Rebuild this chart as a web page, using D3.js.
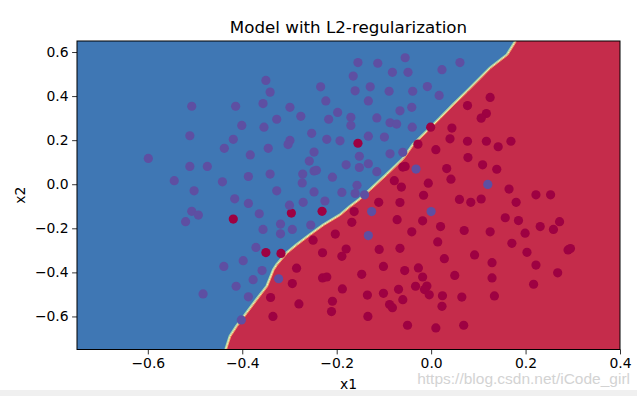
<!DOCTYPE html>
<html><head><meta charset="utf-8">
<script src="https://cdn.jsdelivr.net/npm/d3@7/dist/d3.min.js"></script>
<style>html,body{margin:0;padding:0;background:#fff;}svg{display:block;}</style>
</head><body>
<script>
// ---- data ----
const title = "Model with L2-regularization";
const xTicks = [-0.6, -0.4, -0.2, 0.0, 0.2, 0.4];
const yTicks = [-0.6, -0.4, -0.2, 0.0, 0.2, 0.4, 0.6];
const xDomain = [-0.75, 0.4];
const yDomain = [-0.75, 0.65];

// decision boundary (class 1 region lies to the upper-left)
const boundaryX = [-0.435,-0.426,-0.412,-0.391,-0.370,-0.348,-0.334,-0.327,-0.306,-0.285,-0.257,-0.228,-0.193,-0.172,-0.151,-0.129,-0.094,-0.059,-0.038,-0.009,0.019,0.047,0.076,0.104,0.125,0.161,0.179];
const boundaryY = [-0.75,-0.690,-0.644,-0.584,-0.524,-0.463,-0.388,-0.365,-0.312,-0.275,-0.229,-0.184,-0.139,-0.101,-0.067,-0.024,0.045,0.117,0.181,0.241,0.301,0.362,0.422,0.482,0.528,0.588,0.65];

// class 1 points (purple)
const class1X = [-0.350,-0.341,-0.507,-0.414,-0.356,-0.401,-0.354,-0.511,-0.419,-0.438,-0.345,-0.383,-0.599,-0.511,-0.474,-0.544,-0.387,-0.341,-0.442,-0.502,-0.416,-0.387,-0.507,-0.493,-0.520,-0.364,-0.356,-0.371,-0.398,-0.439,-0.358,-0.377,-0.413,-0.483,-0.387,-0.402,-0.327,-0.327,-0.319,-0.319,-0.294,-0.255,-0.300,-0.271,-0.248,-0.225,-0.189,-0.161,-0.141,-0.323,-0.155,-0.113,-0.165,-0.082,-0.055,-0.049,-0.234,-0.161,-0.129,-0.089,-0.223,-0.133,-0.299,-0.066,-0.198,-0.276,-0.217,-0.170,-0.170,-0.115,-0.087,-0.073,-0.253,-0.299,-0.303,-0.221,-0.193,-0.133,-0.099,-0.248,-0.152,-0.087,-0.060,-0.258,-0.180,-0.133,-0.152,-0.115,-0.248,-0.243,-0.272,-0.209,-0.273,-0.157,0.023,0.061,-0.008,-0.039,0.017,-0.041,-0.040,-0.032,0.120,-0.126,0.000,-0.133];
const class1Y = [0.471,0.418,0.354,0.354,0.366,0.267,0.259,0.220,0.204,0.163,0.163,0.133,0.117,0.081,0.081,0.016,0.035,0.046,0.011,-0.030,-0.066,-0.087,-0.123,-0.140,-0.170,-0.134,-0.205,-0.287,-0.347,-0.373,-0.392,-0.433,-0.463,-0.498,-0.511,-0.616,0.295,-0.030,-0.181,-0.225,-0.205,-0.185,-0.095,-0.082,-0.035,-0.076,-0.037,-0.042,-0.048,-0.429,0.552,0.549,0.491,0.508,0.574,0.508,0.442,0.424,0.442,0.422,0.378,0.378,0.349,0.333,0.326,0.308,0.295,0.304,0.267,0.301,0.279,0.273,0.231,0.199,0.180,0.204,0.197,0.218,0.214,0.146,0.127,0.138,0.145,0.105,0.088,0.093,0.076,0.057,0.060,0.063,0.046,0.032,0.006,-0.005,0.520,0.552,0.443,0.422,0.403,0.349,0.259,0.069,-0.001,-0.124,-0.124,-0.233];

// class 0 points (dark red)
const class0X = [-0.155,-0.419,-0.296,-0.231,-0.350,-0.318,-0.340,-0.335,-0.285,-0.294,-0.280,-0.250,-0.230,-0.230,-0.221,-0.203,-0.180,-0.189,-0.188,-0.209,-0.211,-0.163,-0.168,-0.147,-0.111,-0.066,-0.072,-0.110,-0.066,-0.101,-0.056,-0.135,-0.101,-0.069,-0.060,-0.088,-0.082,-0.134,-0.050,-0.078,-0.060,-0.063,0.125,0.077,0.117,0.106,-0.001,0.044,-0.028,0.010,0.040,0.077,0.117,0.142,0.169,0.078,0.109,0.139,0.033,0.042,-0.055,-0.006,-0.016,0.060,0.084,0.106,0.165,0.180,0.222,0.253,-0.018,0.020,0.070,0.125,0.157,0.185,0.199,0.231,0.259,0.272,-0.041,0.014,0.171,0.203,0.290,0.295,0.028,0.092,0.129,0.222,0.268,-0.027,-0.018,0.050,0.129,0.217,-0.033,-0.009,-0.014,-0.004,0.024,0.065,0.134,0.023,0.010,0.069];
const class0Y = [0.186,-0.158,-0.131,-0.123,-0.310,-0.314,-0.514,-0.600,-0.381,-0.451,-0.543,-0.254,-0.311,-0.425,-0.421,-0.226,-0.294,-0.327,-0.475,-0.531,-0.578,-0.124,-0.173,-0.409,-0.082,-0.083,-0.161,-0.296,-0.291,-0.373,-0.392,-0.503,-0.495,-0.477,-0.524,-0.546,-0.560,-0.600,-0.640,0.016,0.078,-0.013,0.394,0.357,0.321,0.300,0.259,0.255,0.182,0.157,0.206,0.195,0.195,0.170,0.195,0.121,0.088,0.068,0.071,0.023,0.081,0.005,-0.050,-0.069,-0.082,-0.067,-0.022,-0.082,-0.048,-0.048,-0.166,-0.192,-0.210,-0.216,-0.152,-0.165,-0.222,-0.192,-0.205,-0.170,-0.216,-0.262,-0.268,-0.309,-0.298,-0.292,-0.338,-0.321,-0.356,-0.367,-0.402,-0.380,-0.421,-0.414,-0.425,-0.454,-0.463,-0.462,-0.478,-0.502,-0.506,-0.512,-0.507,-0.554,-0.652,-0.640];

// ---- drawing ----
const W = 637, H = 396;
const svg = d3.select("body").append("svg").attr("width", W).attr("height", H);
const L = 77, R = 620, T = 41, B = 349.5;
const x = d3.scaleLinear().domain(xDomain).range([L, R]);
const y = d3.scaleLinear().domain(yDomain).range([B, T]);
const fmt = d => d3.format(".1f")(d).replace("-", "\u2212").replace("\u2212" + "0.0", "0.0");

svg.append("defs").append("clipPath").attr("id", "clip")
  .append("rect").attr("x", L).attr("y", T).attr("width", R - L).attr("height", B - T);

const plot = svg.append("g").attr("clip-path", "url(#clip)");
const redC = "#c52c4b", blueC = "#3f77b4";
plot.append("rect").attr("x", L).attr("y", T).attr("width", R - L).attr("height", B - T).attr("fill", redC);

const bpts = boundaryX.map((v, i) => [v, boundaryY[i]]);
const bluePoly = [[xDomain[0], yDomain[0]], ...bpts, [xDomain[0], yDomain[1]]];
const bl = d3.line().x(d => x(d[0])).y(d => y(d[1]));
plot.append("path").attr("d", bl(bluePoly) + "Z").attr("fill", blueC);
plot.append("path").attr("d", bl(bpts)).attr("fill", "none")
  .attr("stroke", "#a8dba4").attr("stroke-width", 1.2).attr("transform", "translate(-0.7,-0.5)");
plot.append("path").attr("d", bl(bpts)).attr("fill", "none")
  .attr("stroke", "#f6a860").attr("stroke-width", 1).attr("transform", "translate(0.7,0.5)");
plot.append("path").attr("d", bl(bpts)).attr("fill", "none")
  .attr("stroke", "#fcfcbc").attr("stroke-width", 0.9);

const r = 4.6;
plot.append("g").selectAll("circle").data(class0X.map((v, i) => [v, class0Y[i]])).join("circle")
  .attr("cx", d => x(d[0])).attr("cy", d => y(d[1])).attr("r", r).attr("fill", "#9e0142");
plot.append("g").selectAll("circle").data(class1X.map((v, i) => [v, class1Y[i]])).join("circle")
  .attr("cx", d => x(d[0])).attr("cy", d => y(d[1])).attr("r", r).attr("fill", "#5e4fa2");

// axes
const font = "DejaVu Sans, sans-serif";
const xa = svg.append("g").attr("transform", `translate(0,${B})`)
  .call(d3.axisBottom(x).tickValues(xTicks).tickFormat(fmt).tickSize(4.9).tickSizeOuter(0).tickPadding(3.5));
const ya = svg.append("g").attr("transform", `translate(${L},0)`)
  .call(d3.axisLeft(y).tickValues(yTicks).tickFormat(fmt).tickSize(4.9).tickSizeOuter(0).tickPadding(3.5));
[xa, ya].forEach(a => {
  a.select(".domain").remove();
  a.selectAll("text").attr("font-family", font).attr("font-size", 13.9).attr("fill", "#000");
  a.selectAll("line").attr("stroke", "#000").attr("stroke-width", 0.8);
});
svg.append("rect").attr("x", L).attr("y", T).attr("width", R - L).attr("height", B - T)
  .attr("fill", "none").attr("stroke", "#000").attr("stroke-width", 1);

svg.append("text").attr("x", (L + R) / 2).attr("y", 33).attr("text-anchor", "middle")
  .attr("font-family", font).attr("font-size", 16.7).text(title);
svg.append("text").attr("x", (L + R) / 2).attr("y", 389).attr("text-anchor", "middle")
  .attr("font-family", font).attr("font-size", 13.9).text("x1");
svg.append("text").attr("transform", `translate(25,${(T + B) / 2}) rotate(-90)`).attr("text-anchor", "middle")
  .attr("font-family", font).attr("font-size", 13.9).text("x2");

// watermark
svg.append("text").attr("x", 630).attr("y", 384).attr("text-anchor", "end")
  .attr("font-family", "Liberation Sans, Arial, sans-serif").attr("font-size", 15.5)
  .attr("fill", "#d3d3d3").text("https://blog.csdn.net/iCode_girl");

// bottom window strip
svg.append("rect").attr("x", 0).attr("y", 390).attr("width", W).attr("height", 6).attr("fill", "#f0f0f0");
</script>
</body></html>
